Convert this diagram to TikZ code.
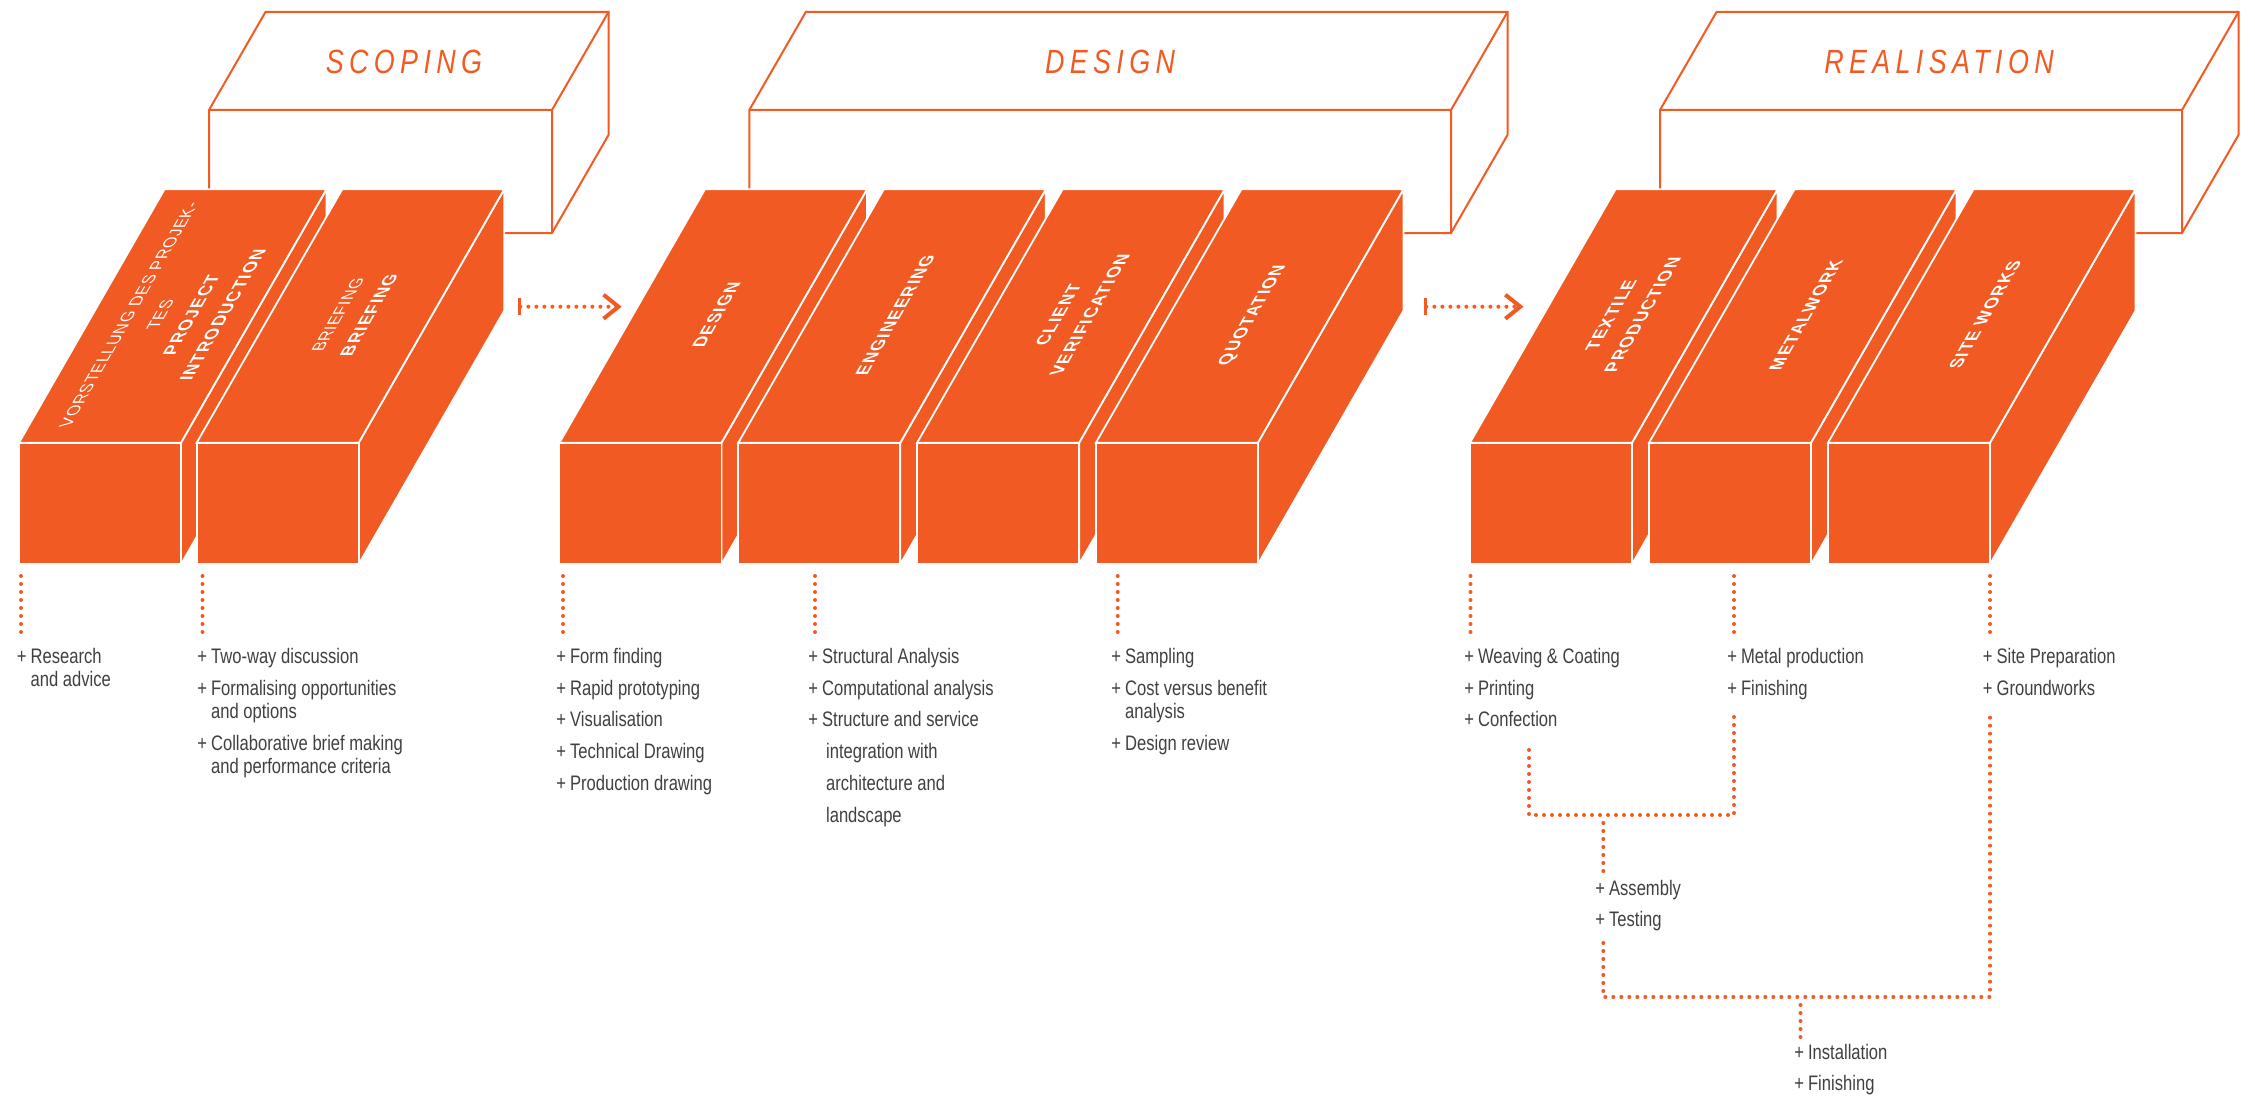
\documentclass[tikz,border=0pt]{standalone}
\usepackage{fontspec}
\setmainfont{Liberation Sans}
\newfontfamily\taskfont{Liberation Sans}[FakeStretch=0.79]
\newfontfamily\phasefont{Liberation Sans}[FakeStretch=0.8, LetterSpace=16]
\newfontfamily\stagefont{Liberation Sans}[LetterSpace=7]
\newfontfamily\stagelight{Liberation Sans}[LetterSpace=4]
\definecolor{brand}{RGB}{241,90,34}
\definecolor{txtgray}{RGB}{64,64,64}
\usetikzlibrary{arrows.meta}
\newcommand{\brick}[1]
{
	\draw[face] (#1+162,442.7) -- ++(145.5,-253.4) -- ++(0,121.5) -- ++(-145.5,253.4) -- cycle;
	\draw[face] (#1,442.7) -- ++(145.5,-253.4) -- ++(162,0) -- ++(-145.5,253.4) -- cycle;
	\draw[face] (#1,442.7) rectangle ++(162,121.5);
}
\newcommand{\phasebox}[2]
{
	\draw[phaseframe] (#1,110) -- ++(56.5,-98) -- (#2+56.5,12) -- ++(0,123) -- (#2,233) -- (#1,233) -- cycle;
	\draw[phaseline] (#1,110) -- (#2,110) -- (#2+56.5,12) (#2,110) -- (#2,233);
}
\newcommand{\lite}[1]{{\stagelight\mdseries\fontsize{8.5}{15.75}\selectfont #1}}
\newcommand{\tasklist}[1]{\begin{tabular}[t]{@{}l@{\hspace{2pt}}l@{}}#1\end{tabular}}
\newcommand{\gap}{\\[4.2pt]}

\begin{document}
\begin{tikzpicture}[x=0.5pt, y=-0.5pt,
	face/.style={fill=brand, draw=white, line width=0.9pt},
	phaseline/.style={draw=brand, line width=1pt},
	phaseframe/.style={phaseline, fill=white},
	dots/.style={draw=brand, line width=2pt, line cap=round, dash pattern=on 0pt off 4pt},
	flow/.style={dots, {Bar[width=8.3pt, line width=1.6pt]}-{Straight Barb[length=7.5pt, width=12pt, line width=2pt]}},
	stage/.style={text=white, align=center, inner sep=0pt, cm={0.497,0.868,-1,0,(0,0)}, font=\stagefont\bfseries\fontsize{9}{15.75}\selectfont},
	phase/.style={text=brand, anchor=base, inner sep=0pt, font=\phasefont\itshape\fontsize{16.8}{20}\selectfont},
	tasks/.style={anchor=base west, inner sep=0pt, text=txtgray, font=\taskfont\fontsize{10.5}{11.67}\selectfont}]
	\useasboundingbox (0,0) rectangle (2255,1097);
	% phase frames
	\phasebox{209}{552}
	\phasebox{749.3}{1451}
	\phasebox{1660}{2182}
	\node[phase] (scoping) at (404,74) {SCOPING};
	\node[phase] (design) at (1110,74) {DESIGN};
	\node[phase] (realisation) at (1939,74) {REALISATION};
	% stage bricks
	\foreach \x in {19,196.7}
		\brick{\x};
	\foreach \x in {559.5,738.3,917.1,1095.9}
		\brick{\x};
	\foreach \x in {1470,1649,1828}
		\brick{\x};
	\node[stage] (intro) at (176,315) {\lite{VORSTELLUNG DES PROJEK-}\\\lite{TES}\\PROJECT\\INTRODUCTION};
	\node[stage] (brief) at (353.7,315) {\lite{BRIEFING}\\BRIEFING};
	\node[stage] (desg) at (716.5,315) {DESIGN};
	\node[stage] (eng) at (895.3,315) {ENGINEERING};
	\node[stage] (verif) at (1074.1,315) {CLIENT\\VERIFICATION};
	\node[stage] (quot) at (1252.9,315) {QUOTATION};
	\node[stage] (textile) at (1627,315) {TEXTILE\\PRODUCTION};
	\node[stage] (metal) at (1806,315) {METALWORK};
	\node[stage] (site) at (1985,315) {SITE WORKS};
	% arrows between phases
	\coordinate (a1) at (518,306.7);
	\coordinate (b1) at (621.7,306.7);
	\coordinate (a2) at (1424,306.7);
	\coordinate (b2) at (1523.5,306.7);
	\draw[flow] (a1) -- (b1);
	\draw[flow] (a2) -- (b2);
	% task lists
	\node[tasks] (t1) at (16.5,663.3) {\tasklist{+ & Research\\ & and advice}};
	\node[tasks] (t2) at (197,663.3) {\tasklist{+ & Two-way discussion\gap + & Formalising opportunities\\ & and options\gap + & Collaborative brief making\\ & and performance criteria}};
	\node[tasks] (t3) at (556,663.3) {\tasklist{+ & Form finding\gap + & Rapid prototyping\gap + & Visualisation\gap + & Technical Drawing\gap + & Production drawing}};
	\node[tasks] (t4) at (808,663.3) {\tasklist{+ & Structural Analysis\gap + & Computational analysis\gap + & Structure and service\gap & \hspace{2pt}integration with\gap & \hspace{2pt}architecture and\gap & \hspace{2pt}landscape}};
	\node[tasks] (t5) at (1111,663.3) {\tasklist{+ & Sampling\gap + & Cost versus benefit\\ & analysis\gap + & Design review}};
	\node[tasks] (t6) at (1464,663.3) {\tasklist{+ & Weaving \& Coating\gap + & Printing\gap + & Confection}};
	\node[tasks] (t7) at (1727,663.3) {\tasklist{+ & Metal production\gap + & Finishing}};
	\node[tasks] (t8) at (1982.5,663.3) {\tasklist{+ & Site Preparation\gap + & Groundworks}};
	\node[tasks] (t9) at (1595,895) {\tasklist{+ & Assembly\gap + & Testing}};
	\node[tasks] (t10) at (1794,1059) {\tasklist{+ & Installation\gap + & Finishing}};
	% dotted links
	\foreach \x/\n in {21/1, 202.5/2, 563/3, 815/4, 1117.7/5, 1470.5/6, 1734/7, 1990/8} {
		\coordinate (u\n) at (\x,576);
		\coordinate (v\n) at (\x,638.5);
		\draw[dots] (u\n) -- (v\n);
	}
	\coordinate (conf) at (1529,750);
	\coordinate (fin) at (1734,714);
	\coordinate (join1) at (1603.3,815);
	\coordinate (asm1) at (1603.3,823);
	\coordinate (asm2) at (1603.3,872);
	\draw[dots] (conf) |- (join1) -| (fin);
	\draw[dots] (asm1) -- (asm2);
	\coordinate (test) at (1603.3,943);
	\coordinate (grnd) at (1990,710);
	\coordinate (join2) at (1800.5,997);
	\coordinate (inst1) at (1800.5,1005);
	\coordinate (inst2) at (1800.5,1038);
	\draw[dots] (test) |- (join2) -| (grnd);
	\draw[dots] (inst1) -- (inst2);
\end{tikzpicture}
\end{document}
